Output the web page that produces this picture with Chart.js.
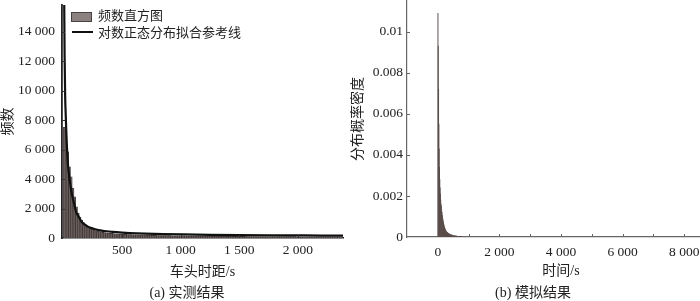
<!DOCTYPE html>
<html><head><meta charset="utf-8">
<script src="https://cdn.jsdelivr.net/npm/chart.js@4"></script>
<style>
html,body{margin:0;padding:0;background:#fff;overflow:hidden;width:700px;height:301px;}
#wrapL{position:absolute;left:0;top:0;width:350px;height:301px;}
#wrapR{position:absolute;left:350px;top:0;width:385px;height:301px;}
.cap{position:absolute;top:284px;font-size:14px;font-family:"Liberation Serif","Times New Roman","Noto Sans CJK SC",serif;color:#222;white-space:nowrap;transform:translateX(-50%);line-height:18px;}
.lg{position:absolute;font-size:13px;font-family:"Liberation Serif","Times New Roman","Noto Sans CJK SC",serif;color:#222;white-space:nowrap;line-height:16px;}
.lgbox{position:absolute;left:71px;top:12px;width:19px;height:8px;background:#8b8181;border:1px solid #4a4242;}
.lgline{position:absolute;left:72px;top:31px;width:21px;height:2.4px;background:#111;}
</style>
</head><body>
<div id="wrapL"><canvas id="cL" width="350" height="301"></canvas></div>
<div id="wrapR"><canvas id="cR" width="385" height="301"></canvas></div>
<div class="lgbox"></div><div class="lg" style="left:98px;top:8px;">频数直方图</div>
<div class="lgline"></div><div class="lg" style="left:98px;top:25px;">对数正态分布拟合参考线</div>
<div class="cap" style="left:187px;">(a) 实测结果</div>
<div class="cap" style="left:533px;">(b) 模拟结果</div>
<script>
// ---------- Left chart (measured) ----------
const leftBinWidth = 15; // seconds
const leftCounts = [
  7500, 7300, 5850, 4830, 4150, 3390, 2800, 2120, 1670, 1420,
  1220, 1040, 900, 820, 740, 660, 600, 550, 500, 470,
  440, 415, 390, 372, 350, 338, 322, 310, 298, 287,
  279, 268, 262, 255, 246, 241, 236, 229, 224, 219,
  214, 211, 205, 203, 198, 195, 191, 188, 186, 181,
  179, 176, 174, 170, 169, 166, 163, 162, 159, 157,
  156, 153, 152, 149, 148, 146, 145, 142, 141, 140,
  138, 137, 135, 134, 133, 131, 130, 129, 128, 126,
  125, 124, 123, 122, 121, 120, 118, 118, 117, 116,
  115, 114, 113, 113, 112, 111, 110, 109, 109, 108,
  107, 106, 106, 105, 104, 103, 103, 102, 101, 101,
  100, 99, 99, 98, 97, 97, 96, 96, 95, 94,
  94, 93, 93, 92, 92, 91, 90, 90, 89, 89,
  88, 88, 87, 87, 86, 86, 85, 85, 84, 84,
  83, 83, 82, 82, 82, 81, 81, 80, 80, 79,
  79, 79, 78, 78, 77, 77, 77, 76, 76, 75
];
const fitX = [6, 10, 15, 20, 25, 30, 37, 45, 51, 60, 66, 80, 94, 110, 122, 140, 151, 180, 208, 240, 264, 300, 349, 420, 500, 565, 700, 850, 1020, 1250, 1500, 1750, 2000, 2200, 2385];
const fitY = [17000, 12500, 9600, 8300, 7100, 6200, 5170, 4500, 4050, 3600, 3250, 2700, 2240, 1720, 1560, 1300, 1150, 920, 770, 670, 610, 530, 475, 410, 360, 330, 290, 262, 240, 218, 200, 186, 175, 166, 160];
const leftXTicks = [500, 1000, 1500, 2000];
const leftXTickLabels = ['500', '1 000', '1 500', '2 000'];
const leftYTicks = [0, 2000, 4000, 6000, 8000, 10000, 12000, 14000];
const leftYTickLabels = ['0', '2 000', '4 000', '6 000', '8 000', '10 000', '12 000', '14 000'];

// ---------- Right chart (simulated) ----------
const rightBinWidth = 10; // seconds
const rightDensity = [
  0.0109, 0.0093, 0.0072, 0.0055, 0.0043, 0.0034, 0.0028, 0.0024, 0.0021, 0.0018,
  0.0016, 0.0015, 0.0013, 0.0012, 0.00105, 0.00095, 0.00086, 0.00078, 0.0007, 0.00062,
  0.00055, 0.0005, 0.00044, 0.0004, 0.00036, 0.00033, 0.0003, 0.00027, 0.00025, 0.00023,
  0.00021, 0.0002, 0.00019, 0.00018, 0.00017, 0.00016, 0.00015, 0.00014, 0.00013, 0.00012,
  0.00011, 0.00011, 0.0001, 0.0001, 0.00009, 0.00009, 0.00008, 0.00008, 0.00007, 0.00007,
  0.00007, 0.00006, 0.00006, 0.00006, 0.00005, 0.00005, 0.00005, 0.00004, 0.00004, 0.00004,
  0.00004, 0.00003, 0.00003, 0.00003, 0.00003, 0.00003, 0.00002, 0.00002, 0.00002, 0.00002,
  0.00002, 0.00002, 0.00002, 0.00001, 0.00001, 0.00001, 0.00001, 0.00001, 0.00001, 0.00001
];
const rightXTicks = [0, 1000, 2000, 3000, 4000, 5000, 6000, 7000, 8000];
const rightXTickLabels = ['0', '', '2 000', '', '4 000', '', '6 000', '', '8 000'];
const rightYTicks = [0, 0.002, 0.004, 0.006, 0.008, 0.01];
const rightYTickLabels = ['0', '0.002', '0.004', '0.006', '0.008', '0.01'];

const fam = '"Liberation Serif", "Times New Roman", "Noto Sans CJK SC", serif';
const numFont = {family: fam, size: 13.5};
const cjkFont = {family: fam, size: 14};

const innerTicks = {
  id: 'innerTicks',
  afterDraw(chart, args, opts) {
    const {ctx, chartArea} = chart;
    const xs = chart.scales.x, ys = chart.scales.y;
    ctx.save();
    ctx.strokeStyle = opts.color;
    ctx.lineWidth = 1;
    ctx.beginPath();
    (opts.x || []).forEach(v => {
      const p = Math.round(xs.getPixelForValue(v)) + 0.5;
      ctx.moveTo(p, chartArea.bottom);
      ctx.lineTo(p, chartArea.bottom - opts.len);
    });
    (opts.y || []).forEach(v => {
      const p = Math.round(ys.getPixelForValue(v)) + 0.5;
      ctx.moveTo(chartArea.left, p);
      ctx.lineTo(chartArea.left + opts.len, p);
    });
    ctx.stroke();
    ctx.restore();
  }
};

function fixW(w) { return s => { s.width = w; s.paddingTop = 0; s.paddingBottom = 0; }; }
function fixH(h) { return s => { s.height = h; s.paddingLeft = 0; s.paddingRight = 0; }; }

new Chart(document.getElementById('cL'), {
  type: 'bar',
  data: {
    datasets: [
      {
        type: 'line',
        label: '对数正态分布拟合参考线',
        data: fitX.map((x, i) => ({x, y: fitY[i]})),
        borderColor: '#111',
        borderWidth: 2.2,
        pointRadius: 0,
        cubicInterpolationMode: 'monotone',
        order: 0
      },
      {
        type: 'bar',
        label: '频数直方图',
        data: leftCounts.map((c, i) => ({x: (i + 0.5) * leftBinWidth, y: c})),
        backgroundColor: '#6a5f5d',
        borderColor: '#2b2524',
        borderWidth: 0.5,
        barPercentage: 1,
        categoryPercentage: 1,
        order: 1
      }
    ]
  },
  options: {
    responsive: false,
    animation: false,
    layout: {padding: {top: 5, right: 7, left: 0, bottom: 0}},
    plugins: {
      legend: {display: false},
      tooltip: {enabled: false},
      innerTicks: {x: leftXTicks, y: leftYTicks.slice(1), len: 3, color: '#333'}
    },
    scales: {
      x: {
        type: 'linear', min: -12, max: 2385, offset: false,
        grid: {display: false, drawTicks: false},
        border: {display: true, color: '#222', width: 1.5},
        afterBuildTicks: s => { s.ticks = leftXTicks.map(v => ({value: v})); },
        afterFit: fixH(63),
        ticks: {autoSkip: false, maxRotation: 0, padding: 4, color: '#222', font: numFont,
          callback: (v, i) => leftXTickLabels[i]},
        title: {display: true, text: '车头时距/s', color: '#222', font: cjkFont, padding: {top: 0, bottom: 20}}
      },
      y: {
        type: 'linear', min: 0, max: 15800,
        grid: {display: false, drawTicks: false},
        border: {display: true, color: '#222', width: 1.8},
        afterBuildTicks: s => { s.ticks = leftYTicks.map(v => ({value: v})); },
        afterFit: fixW(62),
        ticks: {autoSkip: false, padding: 7, color: '#222', font: numFont,
          callback: (v, i) => leftYTickLabels[i]},
        title: {display: true, text: '频数', color: '#222', font: cjkFont, padding: {top: 0, bottom: 0}}
      }
    }
  },
  plugins: [innerTicks]
});

new Chart(document.getElementById('cR'), {
  type: 'bar',
  data: {
    datasets: [{
      label: '模拟结果',
      data: rightDensity.map((d, i) => ({x: (i + 0.5) * rightBinWidth, y: d})),
      backgroundColor: '#5a4e4b',
      borderWidth: 0,
      barPercentage: 1,
      categoryPercentage: 1
    }]
  },
  options: {
    responsive: false,
    animation: false,
    layout: {padding: {top: 1, right: 20, left: 0, bottom: 0}},
    plugins: {
      legend: {display: false},
      tooltip: {enabled: false},
      innerTicks: {x: rightXTicks.slice(1), y: rightYTicks.slice(1), len: 3, color: '#666'}
    },
    scales: {
      x: {
        type: 'linear', min: -1000, max: 9000, offset: false,
        grid: {display: false, drawTicks: false},
        border: {display: true, color: '#666', width: 1.2},
        afterBuildTicks: s => { s.ticks = rightXTicks.map(v => ({value: v})); },
        afterFit: fixH(64),
        ticks: {autoSkip: false, maxRotation: 0, padding: 7, color: '#222', font: numFont,
          callback: (v, i) => rightXTickLabels[i]},
        title: {display: true, text: '时间/s', color: '#222', font: cjkFont, padding: {top: 0, bottom: 21}}
      },
      y: {
        type: 'linear', min: 0, max: 0.0115,
        grid: {display: false, drawTicks: false},
        border: {display: true, color: '#666', width: 1.2},
        afterBuildTicks: s => { s.ticks = rightYTicks.map(v => ({value: v})); },
        afterFit: fixW(57),
        ticks: {autoSkip: false, padding: 4, color: '#222', font: numFont,
          callback: (v, i) => rightYTickLabels[i]},
        title: {display: true, text: '分布概率密度', color: '#222', font: cjkFont, padding: {top: 0, bottom: 0}}
      }
    }
  },
  plugins: [innerTicks]
});
</script>
</body></html>
